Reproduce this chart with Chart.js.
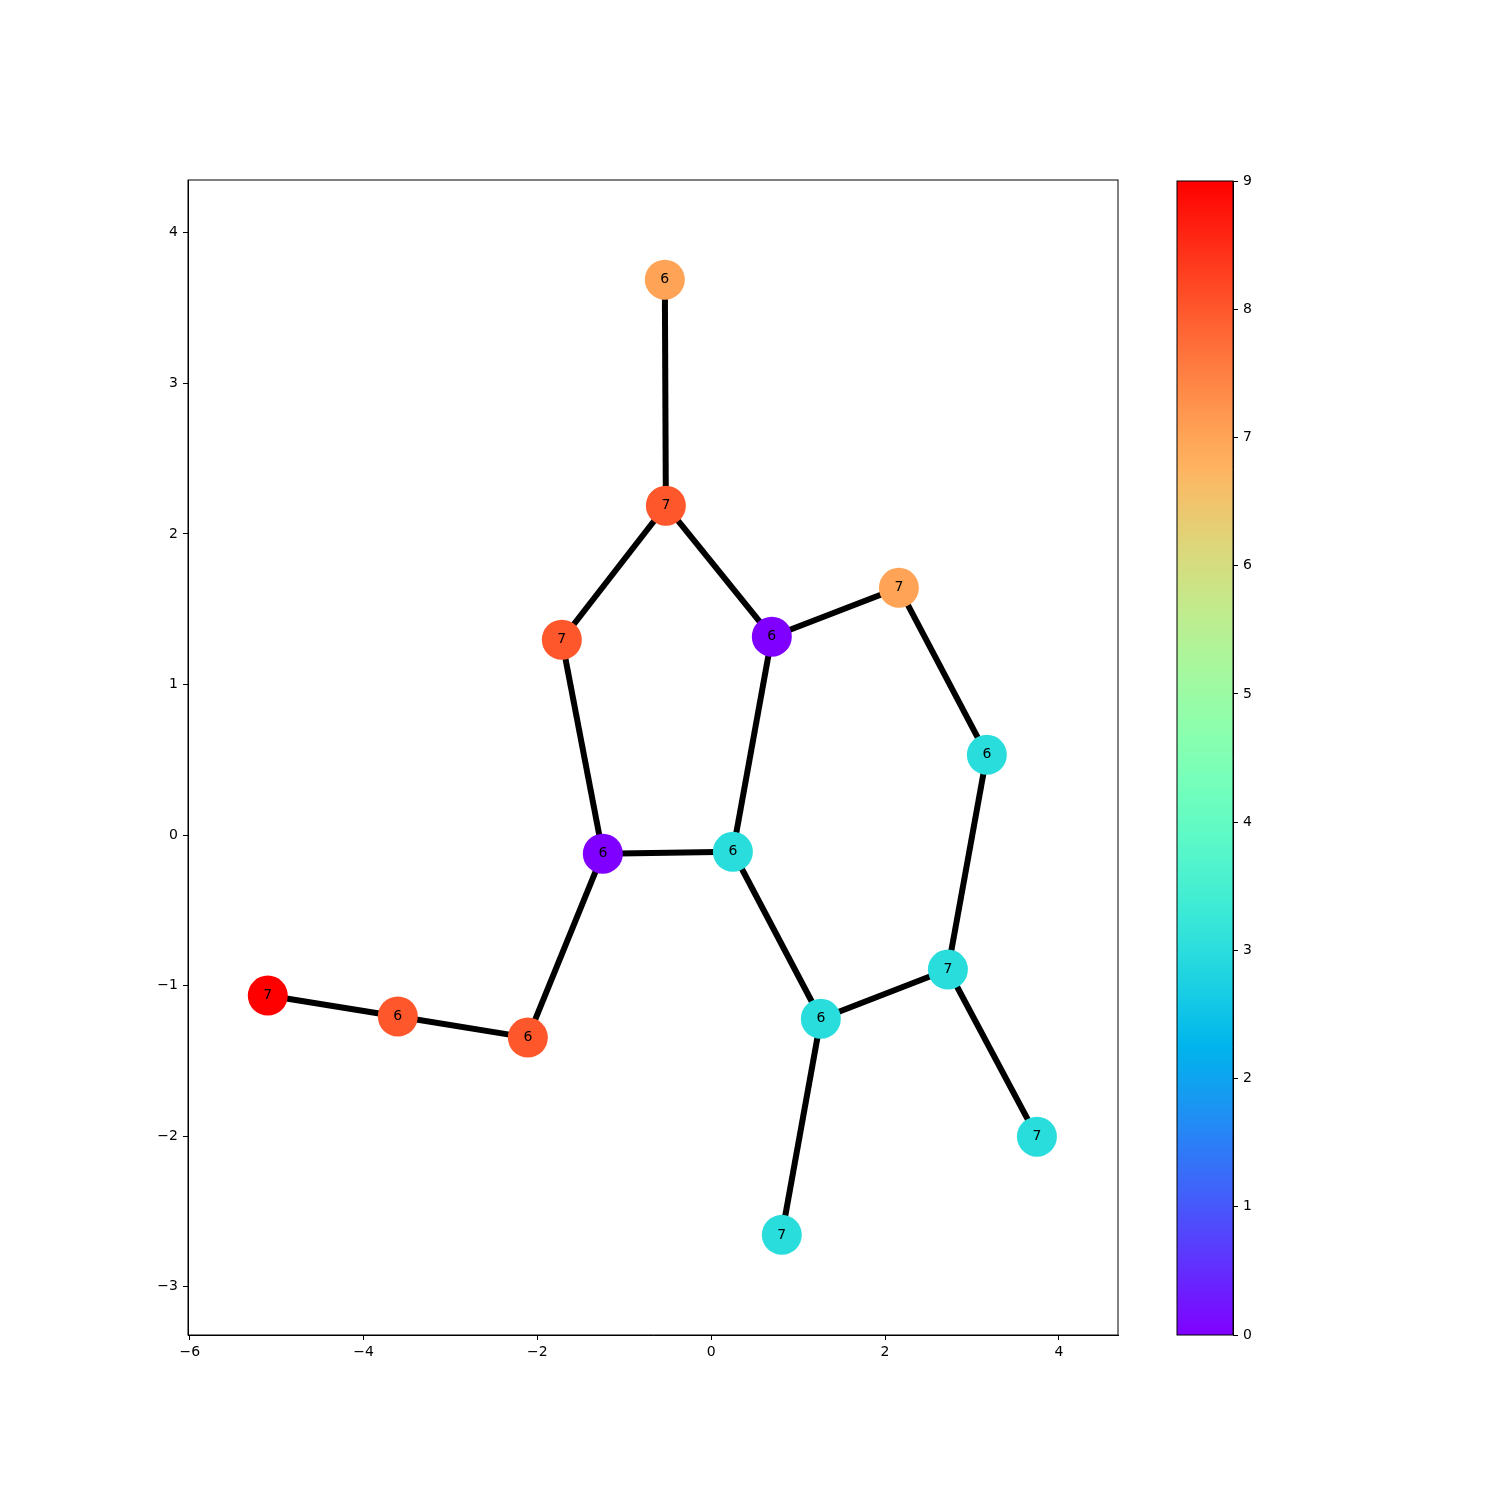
<!DOCTYPE html>
<html>
<head>
<meta charset="utf-8">
<script src="https://cdn.jsdelivr.net/npm/chart.js@4.4.1/dist/chart.umd.min.js"></script>
<style>
  body { margin: 0; background: #fff; }
  canvas { position: absolute; left: 0; top: 0; }
</style>
</head>
<body>
<canvas id="graphChart" width="1500" height="1500"></canvas>
<canvas id="colorbar" width="1500" height="1500"></canvas>
<script>
// node positions, labels and colour values
const nodeX = [-0.534, -0.522, -1.719, 0.697, 2.159, 3.171, -1.247, 0.249, 2.723, 1.261, 3.747, 0.812, -5.102, -3.606, -2.110];
const nodeY = [3.688, 2.187, 1.297, 1.317, 1.642, 0.533, -0.124, -0.111, -0.893, -1.220, -2.003, -2.655, -1.066, -1.205, -1.345];
const nodeLabels = ["6", "7", "7", "6", "7", "6", "6", "6", "7", "6", "7", "7", "7", "6", "6"];
const nodeValues = [7, 8, 8, 0, 7, 3, 0, 3, 3, 3, 3, 3, 9, 8, 8];
const edges = [[0, 1], [1, 2], [1, 3], [3, 4], [4, 5], [5, 8], [8, 9], [8, 10], [9, 11], [9, 7], [7, 3], [7, 6], [6, 2], [6, 14], [14, 13], [13, 12]];
const xTicks = [-6, -4, -2, 0, 2, 4];
const yTicks = [-3, -2, -1, 0, 1, 2, 3, 4];
const cbTicks = [0, 1, 2, 3, 4, 5, 6, 7, 8, 9];

const FONT = "'DejaVu Sans', sans-serif";

// matplotlib "rainbow" colormap
function rainbow(t) {
  const r = Math.min(1, Math.abs(2 * t - 0.5));
  const g = Math.max(0, Math.sin(Math.PI * t));
  const b = Math.max(0, Math.cos(Math.PI * t / 2));
  return "rgb(" + Math.round(r * 255) + "," + Math.round(g * 255) + "," + Math.round(b * 255) + ")";
}
const vmin = 0, vmax = 9;

const minus = (v) => String(v).replace("-", "\u2212");

const edgeSets = edges.map(([a, b]) => ({
  data: [{ x: nodeX[a], y: nodeY[a] }, { x: nodeX[b], y: nodeY[b] }],
  showLine: true,
  borderColor: "#000",
  borderWidth: 6,
  pointRadius: 0,
  order: 2,
}));

const nodeSet = {
  data: nodeX.map((x, i) => ({ x: x, y: nodeY[i] })),
  pointRadius: 20,
  pointHoverRadius: 20,
  pointBorderWidth: 0,
  pointBackgroundColor: nodeValues.map((v) => rainbow((v - vmin) / (vmax - vmin))),
  showLine: false,
  order: 1,
};

const nodeText = {
  id: "nodeText",
  afterDatasetsDraw(chart) {
    const meta = chart.getDatasetMeta(chart.data.datasets.length - 1);
    const ctx = chart.ctx;
    ctx.save();
    ctx.font = "14px " + FONT;
    ctx.fillStyle = "#000";
    ctx.textAlign = "center";
    ctx.textBaseline = "middle";
    meta.data.forEach((pt, i) => ctx.fillText(nodeLabels[i], pt.x, pt.y));
    ctx.restore();
  },
};

const frame = {
  id: "frame",
  afterDraw(chart) {
    const a = chart.chartArea;
    const ctx = chart.ctx;
    ctx.save();
    ctx.strokeStyle = "#000";
    ctx.lineWidth = 1;
    ctx.strokeRect(a.left, a.top, a.right - a.left, a.bottom - a.top);
    ctx.restore();
  },
};

const tickStyle = { color: "#000", font: { family: FONT, size: 14 } };
const gridStyle = { drawOnChartArea: false, color: "#000", tickLength: 5, tickWidth: 1 };

new Chart(document.getElementById("graphChart"), {
  type: "scatter",
  data: { datasets: [...edgeSets, nodeSet] },
  options: {
    responsive: false,
    animation: false,
    devicePixelRatio: 1,
    events: [],
    layout: { padding: { left: 0, top: 180, right: 382, bottom: 125 } },
    plugins: { legend: { display: false }, tooltip: { enabled: false } },
    scales: {
      x: {
        min: -6.02,
        max: 4.68,
        afterBuildTicks: (s) => { s.ticks = xTicks.map((v) => ({ value: v })); },
        afterFit: (s) => { s.height = 40; },
        ticks: { ...tickStyle, padding: 4, callback: (v) => minus(v) },
        grid: gridStyle,
        border: { color: "#000", width: 1 },
      },
      y: {
        min: -3.32,
        max: 4.35,
        afterBuildTicks: (s) => { s.ticks = yTicks.map((v) => ({ value: v })); },
        afterFit: (s) => { s.width = 188; },
        ticks: { ...tickStyle, padding: 5, callback: (v) => minus(v) },
        grid: gridStyle,
        border: { color: "#000", width: 1 },
      },
    },
  },
  plugins: [nodeText, frame],
});

const gradientFill = {
  id: "gradientFill",
  beforeDatasetsDraw(chart) {
    const a = chart.chartArea;
    const y = chart.scales.y;
    const ctx = chart.ctx;
    const g = ctx.createLinearGradient(0, y.getPixelForValue(vmin), 0, y.getPixelForValue(vmax));
    for (let i = 0; i <= 64; i++) g.addColorStop(i / 64, rainbow(i / 64));
    ctx.save();
    ctx.fillStyle = g;
    ctx.fillRect(a.left, a.top, a.right - a.left, a.bottom - a.top);
    ctx.restore();
  },
};

new Chart(document.getElementById("colorbar"), {
  type: "scatter",
  data: { datasets: [] },
  options: {
    responsive: false,
    animation: false,
    devicePixelRatio: 1,
    events: [],
    layout: { padding: { left: 1177, top: 181, right: 217, bottom: 165 } },
    plugins: { legend: { display: false }, tooltip: { enabled: false } },
    scales: {
      x: { display: false, min: 0, max: 1 },
      y: {
        position: "right",
        min: vmin,
        max: vmax,
        afterBuildTicks: (s) => { s.ticks = cbTicks.map((v) => ({ value: v })); },
        afterFit: (s) => { s.width = 50; },
        ticks: { ...tickStyle, padding: 5 },
        grid: gridStyle,
        border: { color: "#000", width: 1 },
      },
    },
  },
  plugins: [gradientFill, frame],
});
</script>
</body>
</html>
